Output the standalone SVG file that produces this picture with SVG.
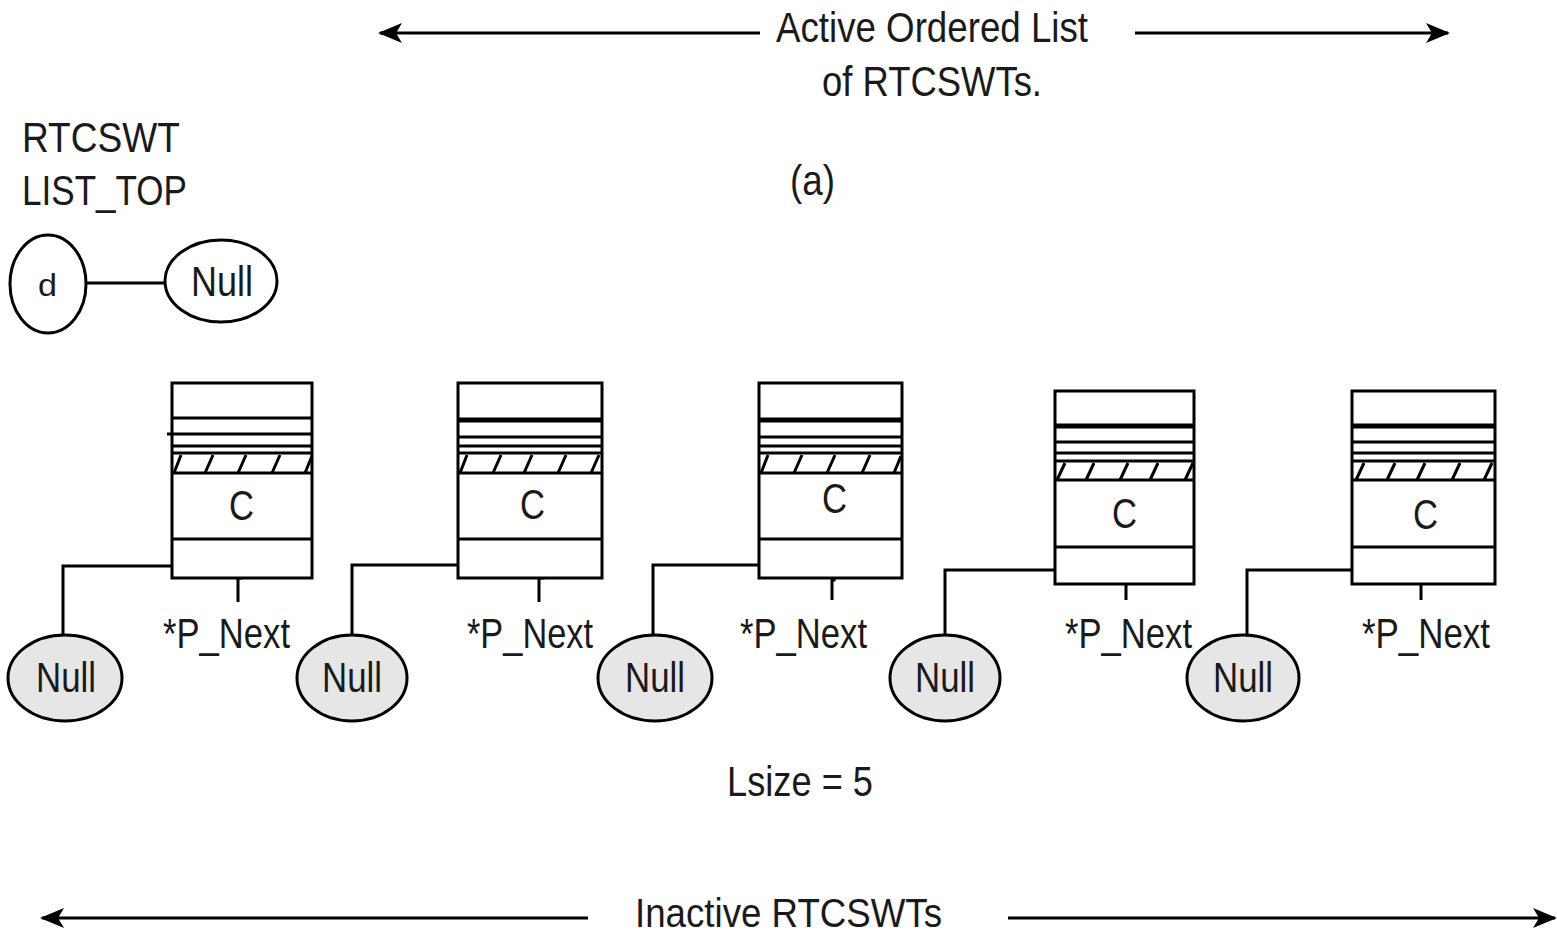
<svg xmlns="http://www.w3.org/2000/svg" width="1557" height="935" viewBox="0 0 1557 935">
<style>
  text { font-family: "Liberation Sans", Arial, sans-serif; fill: #1a1a1a; }
  .big { font-size: 42px; }
  .ln { stroke: #000; stroke-width: 3; fill: none; }
  .thk { stroke: #000; stroke-width: 5; fill: none; }
  .box { stroke: #000; stroke-width: 3; fill: #fff; }
  .null { stroke: #000; stroke-width: 3; fill: #e6e6e6; }
  .wnull { stroke: #000; stroke-width: 3; fill: #fff; }
</style>
<defs>
  <marker id="ah" viewBox="0 0 24 24" refX="22" refY="12" markerWidth="24" markerHeight="24" markerUnits="userSpaceOnUse" orient="auto-start-reverse">
    <path d="M0,2 L6,12 L0,22 L24,12 Z" fill="#000"/>
  </marker>
</defs>
<rect width="1557" height="935" fill="#fff"/>

<g id="connectors">
  <line class="ln" x1="760" y1="33" x2="380" y2="33" marker-end="url(#ah)"/>
  <line class="ln" x1="1135" y1="33" x2="1448" y2="33" marker-end="url(#ah)"/>
  <line class="ln" x1="588" y1="918" x2="42" y2="918" marker-end="url(#ah)"/>
  <line class="ln" x1="1008" y1="918" x2="1555" y2="918" marker-end="url(#ah)"/>
  <line class="ln" x1="86" y1="283" x2="165" y2="283"/>
  <polyline class="ln" points="63,636 63,566 172,566"/>
  <polyline class="ln" points="352,636 352,565 458,565"/>
  <polyline class="ln" points="653,636 653,565 759,565"/>
  <polyline class="ln" points="945,636 945,570 1055,570"/>
  <polyline class="ln" points="1247,636 1247,570 1352,570"/>
  <polyline class="ln" points="241,557 241,578 238,578 238,602"/>
  <polyline class="ln" points="543,557 543,578 539,578 539,602"/>
  <polyline class="ln" points="834,557 834,580 832,580 832,600"/>
  <polyline class="ln" points="1129,557 1129,568 1126,568 1126,600"/>
  <polyline class="ln" points="1424,557 1424,576 1421,576 1421,600"/>
</g>

<g id="title">
  <text class="big" x="776" y="42" textLength="312" lengthAdjust="spacingAndGlyphs">Active Ordered List</text>
  <text class="big" x="822" y="96" textLength="220" lengthAdjust="spacingAndGlyphs">of RTCSWTs.</text>
  <text class="big" x="790" y="195" textLength="45" lengthAdjust="spacingAndGlyphs">(a)</text>
  <text class="big" x="727" y="796" textLength="146" lengthAdjust="spacingAndGlyphs">Lsize = 5</text>
  <text x="635" y="927" style="font-size:40px" textLength="307" lengthAdjust="spacingAndGlyphs">Inactive RTCSWTs</text>
</g>

<g id="list-top">
  <text class="big" x="22" y="152" textLength="158" lengthAdjust="spacingAndGlyphs">RTCSWT</text>
  <text class="big" x="22" y="205" textLength="165" lengthAdjust="spacingAndGlyphs">LIST_TOP</text>
  <ellipse class="wnull" cx="48" cy="284" rx="38" ry="49"/>
  <text x="38" y="296" style="font-size:32px" textLength="19" lengthAdjust="spacingAndGlyphs">d</text>
</g>

<g id="null-top">
  <ellipse class="wnull" cx="221" cy="281" rx="56" ry="41"/>
  <text class="big" x="191" y="296" textLength="62" lengthAdjust="spacingAndGlyphs">Null</text>
</g>

<g id="box1">
  <rect class="box" x="172" y="383" width="140" height="195"/>
  <line class="ln" x1="172" y1="418" x2="312" y2="418"/>
  <line class="ln" x1="167" y1="434" x2="312" y2="434"/>
  <line class="ln" x1="172" y1="446" x2="312" y2="446"/>
  <line class="ln" x1="172" y1="453" x2="312" y2="453"/>
  <line class="ln" x1="172" y1="473" x2="312" y2="473"/>
  <path class="ln" d="M174,473 L181,455 M205,473 L213,455 M238,473 L246,455 M272,473 L280,455 M305,473 L312,456"/>
  <line class="ln" x1="172" y1="539" x2="312" y2="539"/>
  <text class="big" x="229" y="520" textLength="25" lengthAdjust="spacingAndGlyphs">C</text>
  <text class="big" x="163" y="648" textLength="127" lengthAdjust="spacingAndGlyphs">*P_Next</text>
</g>
<g id="null1">
  <ellipse class="null" cx="65" cy="678" rx="57" ry="43"/>
  <text class="big" x="36" y="692" textLength="60" lengthAdjust="spacingAndGlyphs">Null</text>
</g>

<g id="box2">
  <rect class="box" x="458" y="383" width="144" height="195"/>
  <line class="thk" x1="458" y1="420" x2="602" y2="420"/>
  <line class="ln" x1="458" y1="437" x2="602" y2="437"/>
  <line class="ln" x1="458" y1="446" x2="602" y2="446"/>
  <line class="ln" x1="458" y1="453" x2="602" y2="453"/>
  <line class="ln" x1="458" y1="473" x2="602" y2="473"/>
  <path class="ln" d="M460,473 L467,455 M493,473 L501,455 M524,473 L532,455 M558,473 L566,455 M591,473 L599,455"/>
  <line class="ln" x1="458" y1="539" x2="602" y2="539"/>
  <text class="big" x="520" y="519" textLength="25" lengthAdjust="spacingAndGlyphs">C</text>
  <text class="big" x="467" y="648" textLength="126" lengthAdjust="spacingAndGlyphs">*P_Next</text>
</g>
<g id="null2">
  <ellipse class="null" cx="352" cy="678" rx="55" ry="43"/>
  <text class="big" x="322" y="692" textLength="60" lengthAdjust="spacingAndGlyphs">Null</text>
</g>

<g id="box3">
  <rect class="box" x="759" y="383" width="143" height="195"/>
  <line class="thk" x1="759" y1="420" x2="902" y2="420"/>
  <line class="ln" x1="759" y1="437" x2="902" y2="437"/>
  <line class="ln" x1="759" y1="446" x2="902" y2="446"/>
  <line class="ln" x1="759" y1="453" x2="902" y2="453"/>
  <line class="ln" x1="759" y1="473" x2="902" y2="473"/>
  <path class="ln" d="M761,473 L768,455 M794,473 L802,455 M827,473 L835,455 M862,473 L870,455 M894,473 L901,456"/>
  <line class="ln" x1="759" y1="539" x2="902" y2="539"/>
  <text class="big" x="822" y="513" textLength="25" lengthAdjust="spacingAndGlyphs">C</text>
  <text class="big" x="740" y="648" textLength="127" lengthAdjust="spacingAndGlyphs">*P_Next</text>
</g>
<g id="null3">
  <ellipse class="null" cx="655" cy="678" rx="57" ry="43"/>
  <text class="big" x="625" y="692" textLength="60" lengthAdjust="spacingAndGlyphs">Null</text>
</g>

<g id="box4">
  <rect class="box" x="1055" y="391" width="139" height="193"/>
  <line class="thk" x1="1055" y1="426" x2="1194" y2="426"/>
  <line class="ln" x1="1055" y1="442" x2="1194" y2="442"/>
  <line class="ln" x1="1055" y1="453" x2="1194" y2="453"/>
  <line class="ln" x1="1055" y1="461" x2="1194" y2="461"/>
  <line class="ln" x1="1055" y1="480" x2="1194" y2="480"/>
  <path class="ln" d="M1057,480 L1065,463 M1086,480 L1094,463 M1120,480 L1128,463 M1150,480 L1158,463 M1185,480 L1193,463"/>
  <line class="ln" x1="1055" y1="547" x2="1194" y2="547"/>
  <text class="big" x="1112" y="528" textLength="25" lengthAdjust="spacingAndGlyphs">C</text>
  <text class="big" x="1065" y="648" textLength="127" lengthAdjust="spacingAndGlyphs">*P_Next</text>
</g>
<g id="null4">
  <ellipse class="null" cx="945" cy="678" rx="55" ry="43"/>
  <text class="big" x="915" y="692" textLength="60" lengthAdjust="spacingAndGlyphs">Null</text>
</g>

<g id="box5">
  <rect class="box" x="1352" y="391" width="143" height="193"/>
  <line class="thk" x1="1352" y1="426" x2="1495" y2="426"/>
  <line class="ln" x1="1352" y1="442" x2="1495" y2="442"/>
  <line class="ln" x1="1352" y1="453" x2="1495" y2="453"/>
  <line class="ln" x1="1352" y1="461" x2="1495" y2="461"/>
  <line class="ln" x1="1352" y1="480" x2="1495" y2="480"/>
  <path class="ln" d="M1356,480 L1364,463 M1387,480 L1395,463 M1417,480 L1425,463 M1452,480 L1460,463 M1484,480 L1492,463"/>
  <line class="ln" x1="1352" y1="547" x2="1495" y2="547"/>
  <text class="big" x="1413" y="529" textLength="25" lengthAdjust="spacingAndGlyphs">C</text>
  <text class="big" x="1362" y="648" textLength="128" lengthAdjust="spacingAndGlyphs">*P_Next</text>
</g>
<g id="null5">
  <ellipse class="null" cx="1243" cy="678" rx="56" ry="43"/>
  <text class="big" x="1213" y="692" textLength="60" lengthAdjust="spacingAndGlyphs">Null</text>
</g>
</svg>
